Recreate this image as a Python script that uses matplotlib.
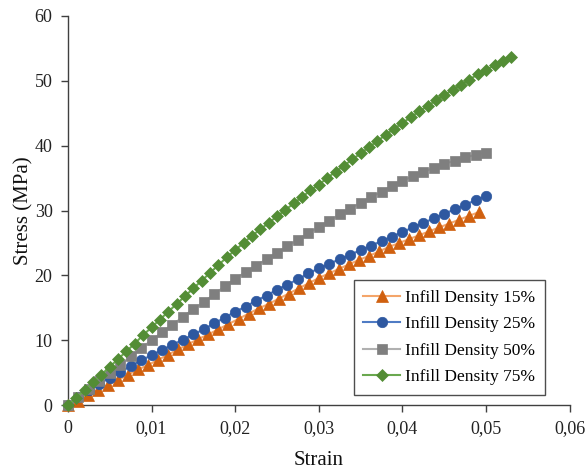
import matplotlib
matplotlib.use('Agg')
import matplotlib.pyplot as plt
from matplotlib.ticker import FuncFormatter, MultipleLocator

plt.rcParams['font.family'] = ['Liberation Serif', 'DejaVu Serif']

# strain / stress readings for each infill density
strain_15 = [0.0, 0.0012, 0.0024, 0.0036, 0.0048, 0.006, 0.0072, 0.0084, 0.0096, 0.0108,
             0.012, 0.0132, 0.0144, 0.0156, 0.0168, 0.018, 0.0192, 0.0204, 0.0216, 0.0228,
             0.024, 0.0252, 0.0264, 0.0276, 0.0288, 0.030, 0.0312, 0.0324, 0.0336, 0.0348,
             0.036, 0.0372, 0.0384, 0.0396, 0.0408, 0.042, 0.0432, 0.0444, 0.0456, 0.0468,
             0.048, 0.0492]
stress_15 = [0.0, 0.7, 1.5, 2.3, 3.1, 3.9, 4.7, 5.5, 6.2, 7.0,
             7.8, 8.6, 9.4, 10.2, 10.9, 11.7, 12.5, 13.3, 14.1, 14.9,
             15.6, 16.4, 17.2, 18.0, 18.8, 19.6, 20.3, 21.0, 21.7, 22.4,
             23.0, 23.7, 24.4, 25.0, 25.6, 26.2, 26.8, 27.4, 28.0, 28.6,
             29.2, 29.8]

strain_25 = [0.0, 0.00125, 0.0025, 0.00375, 0.005, 0.00625, 0.0075, 0.00875, 0.01,
             0.01125, 0.0125, 0.01375, 0.015, 0.01625, 0.0175, 0.01875, 0.02,
             0.02125, 0.0225, 0.02375, 0.025, 0.02625, 0.0275, 0.02875, 0.03,
             0.03125, 0.0325, 0.03375, 0.035, 0.03625, 0.0375, 0.03875, 0.04,
             0.04125, 0.0425, 0.04375, 0.045, 0.04625, 0.0475, 0.04875, 0.05]
stress_25 = [0.0, 1.2, 2.3, 3.3, 4.2, 5.1, 6.0, 6.9, 7.7,
             8.5, 9.3, 10.1, 10.9, 11.7, 12.6, 13.5, 14.4,
             15.2, 16.1, 16.9, 17.8, 18.6, 19.4, 20.3, 21.1,
             21.8, 22.5, 23.2, 23.9, 24.6, 25.3, 26.0, 26.7,
             27.4, 28.1, 28.8, 29.5, 30.2, 30.9, 31.6, 32.3]

strain_50 = list(strain_25)
stress_50 = [0.0, 1.25, 2.5, 3.75, 5.0, 6.25, 7.5, 8.75, 10.0,
             11.2, 12.4, 13.6, 14.8, 15.9, 17.1, 18.3, 19.5,
             20.5, 21.5, 22.5, 23.5, 24.5, 25.5, 26.5, 27.5,
             28.4, 29.4, 30.3, 31.2, 32.1, 32.9, 33.8, 34.6,
             35.3, 36.0, 36.6, 37.2, 37.7, 38.2, 38.6, 38.9]

strain_75 = [0.0, 0.001, 0.002, 0.003, 0.004, 0.005, 0.006, 0.007, 0.008, 0.009, 0.010,
             0.011, 0.012, 0.013, 0.014, 0.015, 0.016, 0.017, 0.018, 0.019, 0.020,
             0.021, 0.022, 0.023, 0.024, 0.025, 0.026, 0.027, 0.028, 0.029, 0.030,
             0.031, 0.032, 0.033, 0.034, 0.035, 0.036, 0.037, 0.038, 0.039, 0.040,
             0.041, 0.042, 0.043, 0.044, 0.045, 0.046, 0.047, 0.048, 0.049, 0.050,
             0.051, 0.052, 0.053]
stress_75 = [0.0, 1.1, 2.3, 3.5, 4.7, 5.9, 7.1, 8.3, 9.5, 10.8, 12.0,
             13.2, 14.4, 15.6, 16.8, 18.0, 19.2, 20.4, 21.6, 22.8, 23.9,
             25.0, 26.1, 27.1, 28.1, 29.1, 30.1, 31.1, 32.1, 33.1, 34.0,
             35.0, 36.0, 36.9, 37.9, 38.8, 39.8, 40.7, 41.7, 42.6, 43.5,
             44.4, 45.3, 46.1, 47.0, 47.8, 48.6, 49.4, 50.2, 51.0, 51.7,
             52.4, 53.1, 53.7]

series = [
    ('Infill Density 15%', strain_15, stress_15, '^', 8.0, '#f4a56a', '#d0600f'),
    ('Infill Density 25%', strain_25, stress_25, 'o', 7.5, '#4f7bc4', '#2e58a0'),
    ('Infill Density 50%', strain_50, stress_50, 's', 7.5, '#b0b0b0', '#7f7f7f'),
    ('Infill Density 75%', strain_75, stress_75, 'D', 6.5, '#6aa84f', '#538d35'),
]

fig = plt.figure(figsize=(5.85, 4.70), dpi=100)
ax = fig.add_axes([0.116, 0.138, 0.858, 0.828])

for label, x, y, marker, ms, line_c, mark_c in series:
    ax.plot(x, y, color=line_c, lw=1.5, marker=marker, ms=ms,
            markerfacecolor=mark_c, markeredgecolor=mark_c, markeredgewidth=0.5,
            label=label, clip_on=False, zorder=3)

ax.set_xlim(0, 0.06)
ax.set_ylim(0, 60)
ax.xaxis.set_major_locator(MultipleLocator(0.01))
ax.yaxis.set_major_locator(MultipleLocator(10))


def comma_fmt(v, pos):
    if abs(v) < 1e-9:
        return '0'
    return ('%.2f' % v).replace('.', ',')


ax.xaxis.set_major_formatter(FuncFormatter(comma_fmt))

for side in ('top', 'right'):
    ax.spines[side].set_visible(False)
for side in ('left', 'bottom'):
    ax.spines[side].set_color('#404040')
    ax.spines[side].set_linewidth(1.0)

ax.tick_params(direction='out', length=5, width=1.0, color='#404040',
               labelsize=13, labelcolor='#222222', pad=6)

ax.set_xlabel('Strain', fontsize=15, color='#111111', labelpad=10)
ax.set_ylabel('Stress (MPa)', fontsize=15, color='#111111', labelpad=1)

leg = ax.legend(loc='lower right', bbox_to_anchor=(0.95, 0.026), fontsize=12.5,
                frameon=True, fancybox=False, handlelength=2.1,
                borderpad=0.55, labelspacing=0.6, handletextpad=0.3,
                borderaxespad=0.0)
leg.get_frame().set_edgecolor('#222222')
leg.get_frame().set_linewidth(1.0)

fig.savefig('out.png', dpi=100)
